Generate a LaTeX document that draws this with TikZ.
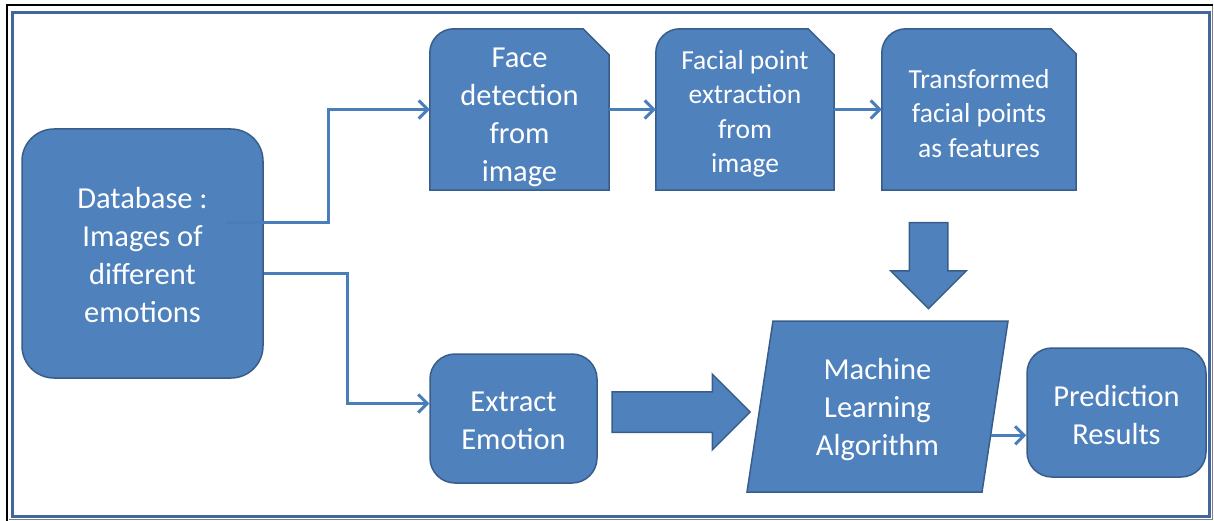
\documentclass[tikz,border=0pt]{standalone}
\usepackage{fontspec}
\setmainfont{Carlito}
\usetikzlibrary{shapes}
\usetikzlibrary{shapes.geometric}
\usetikzlibrary{shapes.arrows}
\usetikzlibrary{arrows.meta}
\usetikzlibrary{calc}
\usetikzlibrary{backgrounds}
\definecolor{boxblue}{HTML}{4F81BD}
\definecolor{boxline}{HTML}{385D8A}
\definecolor{lineblue}{HTML}{4A7EBB}
\definecolor{framecol}{HTML}{41679E}
\newcommand{\toppad}[1]{\rule{0pt}{#1pt}}
\tikzset{
    bigfont/.style = {font=\fontsize{30.5}{38}\selectfont},
    smallfont/.style = {font=\fontsize{27.5}{34.5}\selectfont},
    mynode/.style = {rectangle, rounded corners=25pt, draw=boxline, line width=1.5pt, fill=boxblue, text=white, align=center, inner sep=0pt, bigfont},
    mysnip/.style = {rectangle, text=white, align=center, inner sep=0pt, minimum height=161pt},
    snipshape/.style = {draw=boxline, line width=1.5pt, fill=boxblue},
    mypara/.style = {trapezium, trapezium left angle=76.5, trapezium right angle=103.5, trapezium stretches body, draw=boxline, line width=1.5pt, fill=boxblue, text=white, align=center, inner sep=0pt, bigfont},
    blockarrow/.style = {single arrow, draw=boxline, line width=1.5pt, fill=boxblue, inner xsep=0pt},
    edgen/.style = {-{Straight Barb[length=9pt,width=18pt]}, line width=3pt, lineblue},
    frame/.style = {line width=3pt, framecol}
}

\begin{document}
\begin{tikzpicture}[x=1pt,y=-1pt]
\useasboundingbox (0,0) rectangle (1214,521);
% frame
\draw[line width=2pt] (7,521) -- (7,5.5) -- (1213,5.5);
\draw[gray, line width=1pt] (1212.5,6) -- (1212.5,519.5) -- (9,519.5);
\draw[frame] (12,13) rectangle (1209,516);

\node[mynode, rounded corners=32pt, minimum width=241pt, minimum height=249pt] at (142.5, 253.5) (db) {\toppad{24.5}Database :\\Images of\\different\\emotions};
\node[mysnip, bigfont, minimum width=179pt] at (519.5, 109.5) (face) {\toppad{35.5}Face\\detection\\from\\image};
\node[mysnip, smallfont, minimum width=178pt] at (745, 109.5) (point) {\toppad{28}Facial point\\extraction\\from\\image};
\node[mysnip, smallfont, minimum width=194pt] at (979, 109.5) (feat) {\toppad{26.5}Transformed\\facial points\\as features};
\node[mynode, minimum width=167pt, minimum height=129pt] at (513.5, 418.5) (emo) {\toppad{24.5}Extract\\Emotion};
\node[mypara, minimum width=261pt, minimum height=171pt] at (877.5, 406.5) (ml) {\toppad{27}Machine\\Learning\\Algorithm};
\node[mynode, minimum width=179pt, minimum height=129pt] at (1116.5, 412.5) (pred) {\toppad{26}Prediction\\Results};

\node[blockarrow, rotate=-90, minimum height=86pt, inner ysep=18.5pt, single arrow head extend=18.5pt] at (928.5, 256) (downarr) {};
\node[blockarrow, minimum height=138pt, inner ysep=19.5pt, single arrow head extend=17.5pt] at (671, 412) (rightarr) {};

\begin{scope}[on background layer]
\foreach \n/\c in {face/26,point/26,feat/25}
  \filldraw[snipshape] (\n.south west) -- (\n.south east) -- ([yshift=-\c pt]\n.north east) -- ([xshift=-\c pt]\n.north east) -- ([xshift=24pt]\n.north west) .. controls ([xshift=10.8pt]\n.north west) and ([yshift=-10.8pt]\n.north west) .. ([yshift=-24pt]\n.north west) -- cycle;
\end{scope}

\draw[edgen] ([xshift=-38pt,yshift=30.5pt]db.east) -- ++(103,0) |- (face.west);
\draw[edgen] ([yshift=-19.5pt]db.east) -- ++(84,0) |- ([yshift=15pt]emo.west);
\draw[edgen] (face.east) -- (point.west);
\draw[edgen] (point.east) -- (feat.west);
\coordinate (mlout) at ($(ml.bottom right corner)!0.333!(ml.top right corner)$);
\draw[edgen] (mlout) -- (mlout -| pred.west);
\end{tikzpicture}
\end{document}
